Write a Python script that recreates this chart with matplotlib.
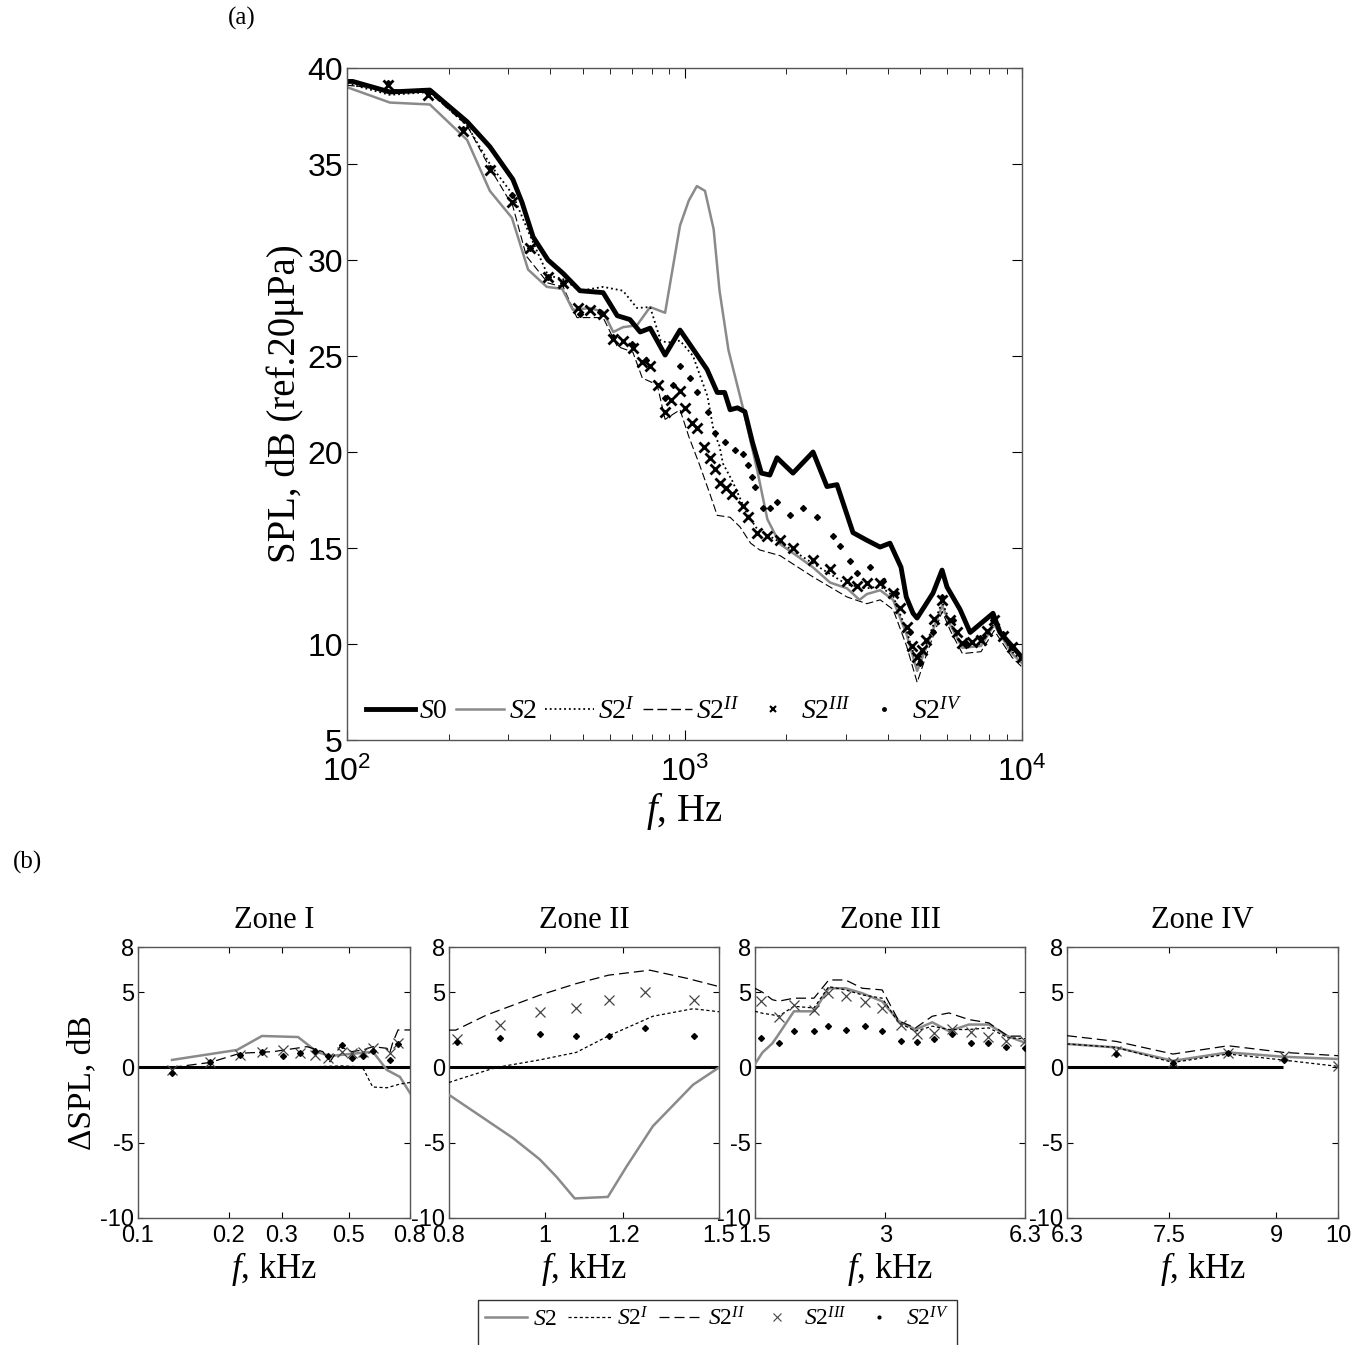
import matplotlib
matplotlib.use('Agg')
import matplotlib.pyplot as plt
import numpy as np
from matplotlib.lines import Line2D
from matplotlib.patches import Rectangle
from matplotlib.ticker import NullLocator, FixedLocator, FixedFormatter

plt.rcParams['font.family'] = ['Liberation Sans', 'DejaVu Sans']
plt.rcParams['mathtext.fontset'] = 'custom'
plt.rcParams['mathtext.rm'] = 'Liberation Serif'
plt.rcParams['mathtext.it'] = 'Liberation Serif:italic'
plt.rcParams['mathtext.bf'] = 'Liberation Serif:bold'

SERIF = 'Liberation Serif'
GRAY = '#8a8a8a'
SPINE = '#555555'

# ---------------- (a) SPL spectra ----------------
f_s0 = [100, 104, 134, 176, 227, 265, 310, 330, 356, 394, 437, 490, 574, 632, 689, 739,
        791, 876, 970, 1166, 1250, 1315, 1365, 1435, 1510, 1590, 1690, 1790, 1880, 2096,
        2404, 2643, 2830, 3157, 3473, 3797, 4063, 4380, 4540, 4755, 4887, 5449, 5796,
        5994, 6552, 7021, 8206, 8610, 10000]
spl_s0 = [39.3, 39.3, 38.75, 38.85, 37.2, 35.9, 34.2, 33.0, 31.2, 30.0, 29.3, 28.4, 28.3,
          27.1, 26.9, 26.25, 26.45, 25.05, 26.35, 24.3, 23.1, 23.1, 22.2, 22.3, 22.1, 20.5,
          18.9, 18.8, 19.7, 18.9, 20.0, 18.2, 18.3, 15.8, 15.4, 15.05, 15.25, 14.0, 12.45,
          11.6, 11.35, 12.65, 13.85, 12.97, 11.8, 10.6, 11.6, 10.6, 9.3]

f_s2 = [100, 134, 176, 227, 265, 308, 344, 391, 434, 467, 524, 574, 615, 657, 723, 791,
        876, 970, 1030, 1088, 1150, 1220, 1270, 1350, 1490, 1640, 1760, 1920, 2150, 2400,
        2700, 3030, 3300, 3470, 3800, 4150, 4550, 4890, 5200, 5800, 6130, 6660, 7560,
        8270, 9350, 10000]
spl_s2 = [39.0, 38.2, 38.1, 36.25, 33.6, 32.2, 29.5, 28.6, 28.5, 27.4, 27.5, 27.3, 26.25,
          26.5, 26.6, 27.55, 27.25, 31.8, 33.1, 33.85, 33.6, 31.6, 28.4, 25.3, 22.3, 19.1,
          16.5, 15.2, 14.6, 14.0, 13.2, 12.9, 12.3, 12.6, 12.8, 12.3, 10.5, 8.6, 9.8, 12.0,
          11.0, 9.8, 9.9, 11.0, 9.5, 9.0]

f_s2i = [100, 134, 176, 227, 265, 310, 348, 394, 437, 490, 574, 657, 723, 791, 850, 890,
         970, 1060, 1170, 1220, 1270, 1300, 1385, 1530, 1640, 1920, 2400, 3030, 3470,
         3800, 4150, 4550, 4890, 5200, 5800, 6130, 6660, 7560, 8270, 9350, 10000]
spl_s2i = [39.2, 38.6, 38.75, 37.0, 35.0, 33.4, 31.3, 29.2, 29.0, 28.4, 28.6, 28.4, 27.5,
           27.55, 25.8, 25.7, 25.8, 25.0, 22.9, 21.1, 20.3, 19.4, 18.5, 16.8, 16.0, 15.3,
           14.2, 13.1, 12.9, 13.0, 12.5, 10.7, 8.9, 10.0, 12.2, 11.1, 9.9, 10.0, 11.1, 9.6,
           9.1]

f_s2ii = [100, 176, 227, 265, 310, 340, 394, 437, 480, 574, 632, 703, 750, 830, 876, 970,
          1030, 1110, 1190, 1250, 1365, 1460, 1570, 1670, 1920, 2400, 3030, 3470, 3800,
          4150, 4550, 4890, 5200, 5800, 6130, 6660, 7560, 8270, 9350, 10000]
spl_s2ii = [39.1, 38.7, 37.0, 34.8, 32.8, 30.2, 28.8, 28.6, 27.0, 27.0, 25.5, 25.2, 23.85,
            23.5, 21.7, 22.2, 20.8, 19.3, 17.8, 16.7, 16.6, 16.1, 15.25, 14.9, 14.6, 13.5,
            12.45, 12.1, 12.3, 11.8, 9.9, 8.0, 9.4, 11.7, 10.7, 9.5, 9.6, 10.7, 9.3, 8.8]

f_s2iii = [132, 174, 221, 265, 308, 348, 394, 437, 483, 524, 574, 615, 657, 703, 750, 791,
           835, 876, 915, 970, 1005, 1050, 1090, 1140, 1190, 1230, 1270, 1330, 1385, 1490,
           1540, 1640, 1760, 1920, 2100, 2404, 2700, 3030, 3250, 3473, 3797, 4150, 4350,
           4550, 4720, 4890, 5050, 5200, 5500, 5796, 6130, 6400, 6660, 7100, 7560, 7900,
           8270, 8800, 9350, 10000]
spl_s2iii = [39.1, 38.6, 36.7, 34.7, 33.0, 30.6, 29.1, 28.8, 27.5, 27.4, 27.2, 25.9, 25.8,
             25.4, 24.7, 24.5, 23.5, 22.1, 22.7, 23.2, 22.3, 21.5, 21.25, 20.25, 19.7, 19.1,
             18.4, 18.1, 17.8, 17.2, 16.6, 15.8, 15.6, 15.4, 15.0, 14.4, 13.9, 13.3, 13.0,
             13.2, 13.2, 12.65, 11.9, 10.9, 9.9, 9.3, 9.7, 10.2, 11.3, 12.3, 11.25, 10.6,
             10.05, 10.1, 10.2, 10.7, 11.25, 10.4, 9.85, 9.3]

f_s2iv = [132, 174, 221, 265, 308, 348, 394, 437, 490, 560, 615, 700, 770, 876, 925, 970,
          1035, 1090, 1175, 1230, 1315, 1410, 1490, 1540, 1580, 1620, 1710, 1790, 1880,
          2050, 2250, 2470, 2760, 2880, 3100, 3250, 3540, 3880, 4240, 4660, 5000, 5450,
          5800, 6250, 6830, 7500, 8200, 8800, 9350, 10000]
spl_s2iv = [39.2, 38.8, 36.8, 34.8, 33.4, 30.6, 29.1, 28.8, 27.2, 27.3, 26.0, 25.6, 24.8,
            22.8, 23.5, 24.5, 23.85, 23.1, 22.1, 21.0, 20.5, 20.1, 19.9, 19.3, 18.7, 18.2,
            17.1, 17.1, 17.4, 16.7, 17.1, 16.6, 15.6, 15.1, 14.3, 13.7, 14.0, 13.3, 12.65,
            10.6, 9.0, 10.6, 12.45, 11.25, 10.05, 10.3, 11.25, 10.5, 9.85, 9.3]

# ---------------- (b) Delta SPL per zone ----------------
zone_titles = ['Zone I', 'Zone II', 'Zone III', 'Zone IV']
zone_xlim = [(0.1, 0.8), (0.8, 1.5), (1.5, 6.3), (6.3, 10)]
zone_ticks = [[0.1, 0.2, 0.3, 0.5, 0.8], [0.8, 1, 1.2, 1.5], [1.5, 3, 6.3], [6.3, 7.5, 9, 10]]
zone_ticklabels = [['0.1', '0.2', '0.3', '0.5', '0.8'], ['0.8', '1', '1.2', '1.5'],
                   ['1.5', '3', '6.3'], ['6.3', '7.5', '9', '10']]
zone_zero_span = [(0.1, 0.8), (0.8, 1.5), (1.5, 6.3), (6.3, 9.1)]

# Zone I
z1_f_s2 = [0.1297, 0.2131, 0.258, 0.340, 0.393, 0.434, 0.546, 0.603, 0.671, 0.741, 0.8]
z1_d_s2 = [0.5, 1.16, 2.09, 2.02, 1.03, 0.76, 0.96, 1.03, -0.17, -0.63, -1.7]
z1_f_s2i = [0.1294, 0.1734, 0.2181, 0.3038, 0.387, 0.474, 0.540, 0.5605, 0.6014, 0.671, 0.741, 0.8]
z1_d_s2i = [0.0, 0.05, 0.05, 0.05, 0.05, 0.1, 0.05, -0.1, -1.3, -1.35, -1.1, -1.0]
z1_f_s2ii = [0.1294, 0.1734, 0.2181, 0.281, 0.364, 0.411, 0.434, 0.469, 0.512, 0.558,
             0.603, 0.671, 0.685, 0.700, 0.730, 0.8]
z1_d_s2ii = [0.0, 0.33, 0.94, 1.05, 1.38, 1.05, 0.38, 1.38, 1.05, 1.16, 1.38, 1.27, 0.94,
             1.61, 2.49, 2.49]
z1_f_s2iii = [0.1294, 0.1734, 0.2181, 0.2575, 0.3038, 0.345, 0.387, 0.4286, 0.474, 0.515,
              0.5605, 0.6014, 0.686, 0.7276]
z1_d_s2iii = [-0.17, 0.38, 0.83, 1.05, 1.16, 0.94, 0.83, 0.61, 1.05, 0.94, 1.05, 1.27, 0.94, 1.61]
z1_f_s2iv = [0.1294, 0.1734, 0.2181, 0.2575, 0.3038, 0.345, 0.387, 0.4286, 0.474, 0.515,
             0.5605, 0.6014, 0.686, 0.7276]
z1_d_s2iv = [-0.39, 0.38, 0.83, 1.05, 0.78, 0.94, 1.12, 0.78, 1.49, 0.61, 0.78, 1.12, 0.50, 1.54]

# Zone II
z2_f_s2 = [0.8, 0.873, 0.929, 0.988, 1.027, 1.072, 1.158, 1.209, 1.286, 1.412, 1.5]
z2_d_s2 = [-1.82, -3.5, -4.7, -6.1, -7.25, -8.7, -8.6, -6.6, -3.9, -1.15, 0.0]
z2_f_s2i = [0.8, 0.826, 0.893, 0.988, 1.076, 1.16, 1.286, 1.412, 1.5]
z2_d_s2i = [-1.0, -0.7, 0.0, 0.5, 1.0, 2.1, 3.4, 3.9, 3.7]
z2_f_s2ii = [0.8, 0.8126, 0.873, 0.929, 0.988, 1.076, 1.16, 1.277, 1.392, 1.5]
z2_d_s2ii = [2.48, 2.48, 3.48, 4.14, 4.8, 5.57, 6.13, 6.46, 5.92, 5.37]
z2_f_mk = [0.8146, 0.9002, 0.9896, 1.074, 1.160, 1.262, 1.415]
z2_d_s2iii = [1.88, 2.83, 3.71, 3.98, 4.49, 5.04, 4.49]
z2_d_s2iv = [1.68, 1.96, 2.23, 2.12, 2.12, 2.59, 2.12]

# Zone III
z3_f_ln = [1.5, 1.560, 1.645, 1.700, 1.845, 2.052, 2.220, 2.427, 2.652, 2.949, 3.223,
           3.522, 3.848, 4.205, 4.676, 5.198, 5.75, 6.3]
z3_d_s2 = [0.22, 0.99, 1.6, 2.19, 3.73, 3.73, 5.26, 5.26, 4.93, 4.39, 3.07, 2.52, 3.0,
           2.41, 2.85, 2.85, 2.08, 1.64]
z3_d_s2i = [3.73, 3.6, 3.5, 3.4, 4.06, 3.95, 5.37, 5.15, 4.82, 4.6, 2.96, 2.41, 2.74,
            2.52, 2.52, 2.63, 1.97, 1.91]
z3_d_s2ii = [5.26, 5.0, 4.5, 4.4, 4.6, 4.6, 5.81, 5.81, 5.26, 5.15, 3.07, 2.63, 3.4, 3.62,
             3.18, 2.96, 2.08, 2.08]
z3_f_mk = [1.546, 1.706, 1.845, 2.052, 2.212, 2.427, 2.69, 2.949, 3.251, 3.553, 3.882,
           4.264, 4.718, 5.18, 5.70, 6.3]
z3_d_s2iii = [4.39, 3.33, 4.17, 3.84, 4.93, 4.76, 4.32, 3.95, 2.85, 2.19, 2.26, 2.57,
              2.35, 2.04, 1.75, 1.75]
z3_d_s2iv = [1.97, 1.64, 2.41, 2.41, 2.74, 2.52, 2.74, 2.41, 1.75, 1.69, 1.86, 2.19,
             1.64, 1.6, 1.38, 1.32]

# Zone IV
z4_f_ln = [6.3, 6.851, 7.548, 8.293, 9.114, 10]
z4_d_s2 = [1.56, 1.33, 0.44, 1.0, 0.71, 0.56]
z4_d_s2i = [1.56, 1.33, 0.33, 0.89, 0.49, 0.07]
z4_d_s2ii = [2.11, 1.73, 0.89, 1.44, 1.0, 0.78]
z4_f_s2iii = [6.851, 7.548, 8.293, 9.114, 10]
z4_d_s2iii = [1.11, 0.33, 0.93, 0.78, 0.11]
z4_f_s2iv = [6.851, 7.548, 8.293, 9.114]
z4_d_s2iv = [0.89, 0.27, 0.96, 0.49]

zones = [
    dict(s2=(z1_f_s2, z1_d_s2), s2i=(z1_f_s2i, z1_d_s2i), s2ii=(z1_f_s2ii, z1_d_s2ii),
         s2iii=(z1_f_s2iii, z1_d_s2iii), s2iv=(z1_f_s2iv, z1_d_s2iv)),
    dict(s2=(z2_f_s2, z2_d_s2), s2i=(z2_f_s2i, z2_d_s2i), s2ii=(z2_f_s2ii, z2_d_s2ii),
         s2iii=(z2_f_mk, z2_d_s2iii), s2iv=(z2_f_mk, z2_d_s2iv)),
    dict(s2=(z3_f_ln, z3_d_s2), s2i=(z3_f_ln, z3_d_s2i), s2ii=(z3_f_ln, z3_d_s2ii),
         s2iii=(z3_f_mk, z3_d_s2iii), s2iv=(z3_f_mk, z3_d_s2iv)),
    dict(s2=(z4_f_ln, z4_d_s2), s2i=(z4_f_ln, z4_d_s2i), s2ii=(z4_f_ln, z4_d_s2ii),
         s2iii=(z4_f_s2iii, z4_d_s2iii), s2iv=(z4_f_s2iv, z4_d_s2iv)),
]

lab_s0 = r'$\mathit{S0}$'
lab_s2 = r'$\mathit{S2}$'
lab_s2i = r'$\mathit{S2}^{\mathit{I}}$'
lab_s2ii = r'$\mathit{S2}^{\mathit{II}}$'
lab_s2iii = r'$\mathit{S2}^{\mathit{III}}$'
lab_s2iv = r'$\mathit{S2}^{\mathit{IV}}$'


def style_spines(ax):
    for sp in ax.spines.values():
        sp.set_color(SPINE)
        sp.set_linewidth(1.0)


fig = plt.figure(figsize=(13.62, 13.45), dpi=100)

# ---------------- panel (a) ----------------
ax = fig.add_axes([347 / 1362, 1 - 740 / 1345, 675 / 1362, 672 / 1345])
ax.plot(f_s2ii, spl_s2ii, color='k', lw=0.8, dashes=(7, 3), label=lab_s2ii)
ax.plot(f_s2, spl_s2, color=GRAY, lw=1.8, label=lab_s2)
ax.plot(f_s2i, spl_s2i, color='k', lw=1.3, ls=':', label=lab_s2i)
ax.plot(f_s2iii, spl_s2iii, ls='none', marker='x', ms=7, mew=2, color='k', label=lab_s2iii)
ax.plot(f_s2iv, spl_s2iv, ls='none', marker='D', ms=3, color='k', label=lab_s2iv)
ax.plot(f_s0, spl_s0, color='k', lw=3.5, label=lab_s0)
ax.set_xscale('log')
ax.set_xlim(100, 10000)
ax.set_ylim(5, 40)
ax.set_yticks(np.arange(5, 41, 5))
ax.tick_params(which='both', direction='in', top=True, right=True, labelsize=23)
ax.tick_params(axis='x', which='both', pad=12)
ax.tick_params(axis='y', which='both', pad=3)
ax.tick_params(which='major', length=7)
ax.tick_params(which='minor', length=4)
style_spines(ax)
ax.set_ylabel('SPL, dB (ref.20μPa)', fontfamily=SERIF, fontsize=28, labelpad=2)
ax.set_xlabel(r'$f$, Hz', fontfamily=SERIF, fontsize=28, labelpad=2)

handles = [
    Line2D([], [], color='k', lw=3.5),
    Line2D([], [], color=GRAY, lw=1.8),
    Line2D([], [], color='k', lw=1.3, ls=':'),
    Line2D([], [], color='k', lw=1.0, dashes=(7, 3)),
    Line2D([], [], ls='none', marker='x', ms=5, mew=1.5, color='k'),
    Line2D([], [], ls='none', marker='.', ms=5, color='k'),
]
labels = [lab_s0, lab_s2, lab_s2i, lab_s2ii, lab_s2iii, lab_s2iv]
ax.legend(handles, labels, ncol=6, loc='center', bbox_to_anchor=(0.47, 0.043),
          frameon=False, fontsize=20, handlelength=1.75, handletextpad=0.15,
          columnspacing=0.3, borderaxespad=0)

fig.text(242 / 1362, 1 - 18 / 1345, '(a)', fontfamily=SERIF, fontsize=18,
         ha='center', va='center')
fig.text(27 / 1362, 1 - 862 / 1345, '(b)', fontfamily=SERIF, fontsize=18,
         ha='center', va='center')

# ---------------- panel (b) ----------------
lefts = [138, 449, 755, 1067]
widths = [272, 270, 270, 271]
for i, zd in enumerate(zones):
    axz = fig.add_axes([lefts[i] / 1362, 1 - 1218 / 1345, widths[i] / 1362, 271 / 1345])
    axz.set_xscale('log')
    z0, z1 = zone_zero_span[i]
    axz.hlines(0, z0, z1, color='k', lw=2.2, zorder=1)
    axz.plot(*zd['s2'], color=GRAY, lw=1.8, zorder=3)
    axz.plot(*zd['s2i'], color='k', lw=0.9, dashes=(2.5, 2), zorder=3)
    axz.plot(*zd['s2ii'], color='k', lw=0.9, dashes=(8, 4), zorder=3)
    axz.plot(*zd['s2iii'], ls='none', marker='x', ms=7, mew=0.9, color='#444444', zorder=4)
    axz.plot(*zd['s2iv'], ls='none', marker='D', ms=3, color='k', zorder=4)
    axz.set_xlim(*zone_xlim[i])
    axz.set_ylim(-10, 8)
    axz.xaxis.set_major_locator(FixedLocator(zone_ticks[i]))
    axz.xaxis.set_major_formatter(FixedFormatter(zone_ticklabels[i]))
    axz.xaxis.set_minor_locator(NullLocator())
    axz.set_yticks([-10, -5, 0, 5, 8])
    axz.set_yticklabels(['-10', '-5', '0', '5', '8'])
    axz.tick_params(which='both', direction='in', top=True, right=True, labelsize=17,
                    length=4)
    axz.tick_params(axis='x', pad=5)
    axz.tick_params(axis='y', pad=3)
    style_spines(axz)
    axz.set_title(zone_titles[i], fontfamily=SERIF, fontsize=22, pad=14)
    axz.set_xlabel(r'$f$, kHz', fontfamily=SERIF, fontsize=25, labelpad=2)
    if i == 0:
        axz.set_ylabel('ΔSPL, dB', fontfamily=SERIF, fontsize=24, labelpad=2)

handles_b = [
    Line2D([], [], color=GRAY, lw=1.8),
    Line2D([], [], color='k', lw=0.9, dashes=(2.5, 2)),
    Line2D([], [], color='k', lw=0.9, dashes=(8, 4)),
    Line2D([], [], ls='none', marker='x', ms=6, mew=0.8, color='#444444'),
    Line2D([], [], ls='none', marker='.', ms=4, color='k'),
]
labels_b = [lab_s2, lab_s2i, lab_s2ii, lab_s2iii, lab_s2iv]
fig.legend(handles_b, labels_b, ncol=5, loc='upper center',
           bbox_to_anchor=(717 / 1362, 1 - 1300 / 1345), fontsize=17,
           handlelength=1.8, handletextpad=0.25, columnspacing=0.45,
           frameon=False, borderpad=0.3, borderaxespad=0)
# legend box runs off the bottom edge of the figure, as in the original
fig.patches.append(Rectangle((478 / 1362, -0.02), 479 / 1362, 0.02 + 45 / 1345,
                             transform=fig.transFigure, fill=False,
                             edgecolor='#333333', lw=1.0))

fig.savefig('out.png', dpi=100)
